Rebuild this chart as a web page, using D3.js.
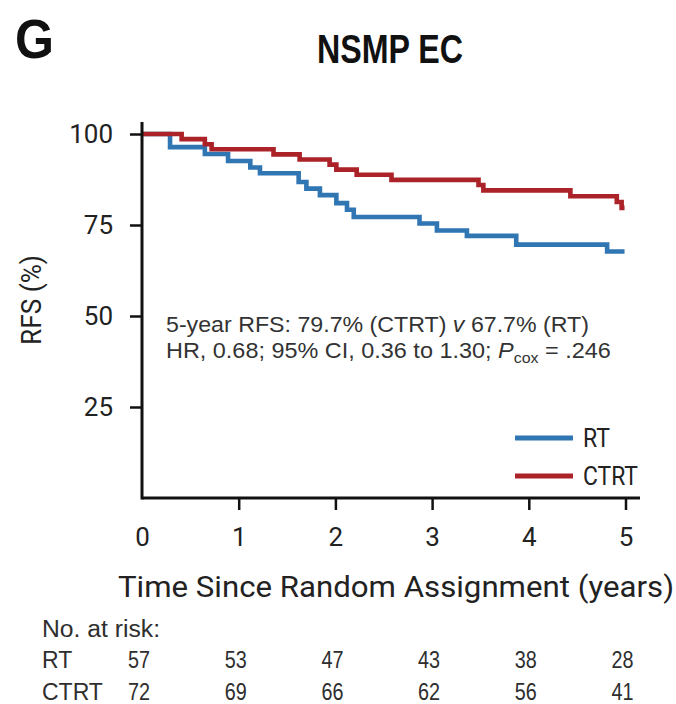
<!DOCTYPE html>
<html>
<head>
<meta charset="utf-8">
<script src="https://cdn.jsdelivr.net/npm/d3@7/dist/d3.min.js"></script>
<style>
  html, body { margin: 0; padding: 0; background: #fff; }
  svg { display: block; }
</style>
</head>
<body>
<svg id="chart" width="676" height="704"></svg>
<script>
// Kaplan-Meier step data: time (years) and RFS (%) after each step
const rtTimes   = [0, 0.29, 0.65, 0.89, 1.12, 1.22, 1.62, 1.70, 1.84, 2.01, 2.12, 2.19, 2.87, 3.05, 3.36, 3.87, 4.81];
const rtSurv    = [100, 96.4, 94.5, 92.6, 90.8, 89.2, 86.8, 85.0, 83.2, 81.0, 79.2, 77.2, 75.4, 73.5, 72.0, 69.6, 67.7];
const ctrtTimes = [0, 0.41, 0.65, 0.72, 1.36, 1.63, 1.94, 2.01, 2.22, 2.58, 3.48, 3.53, 4.43, 4.91, 4.96];
const ctrtSurv  = [100, 98.6, 97.2, 95.8, 94.4, 93.0, 91.6, 90.2, 88.8, 87.4, 86.0, 84.5, 82.9, 81.3, 79.7];
const followUpEnd = 4.99;

const xTicks = [0, 1, 2, 3, 4, 5];
const yTicks = [25, 50, 75, 100];

const groups = ["RT", "CTRT"];
const atRiskRT   = [57, 53, 47, 43, 38, 28];
const atRiskCTRT = [72, 69, 66, 62, 56, 41];

const colors = { RT: "#2f76b3", CTRT: "#ab2229" };

const svg = d3.select("#chart");
const x = d3.scaleLinear().domain([0, 5]).range([142, 625.5]);
const y = d3.scaleLinear().domain([0, 100]).range([498, 134]);

const axisFont = "Roboto, 'Liberation Sans', Arial, sans-serif";
const textFont = "'Liberation Sans', Arial, Helvetica, sans-serif";

// Panel letter and title
svg.append("text").attr("x", 15).attr("y", 58)
  .attr("font-family", textFont).attr("font-weight", "bold").attr("font-size", 55)
  .attr("textLength", 39).attr("lengthAdjust", "spacingAndGlyphs")
  .attr("fill", "#111").text("G");
svg.append("text").attr("x", 390).attr("y", 63).attr("text-anchor", "middle")
  .attr("font-family", textFont).attr("font-weight", "bold").attr("font-size", 40)
  .attr("textLength", 146).attr("lengthAdjust", "spacingAndGlyphs")
  .attr("fill", "#111").text("NSMP EC");

// Curves
const toPoints = (ts, vs) => {
  const pts = ts.map((t, i) => [t, vs[i]]);
  pts.push([followUpEnd, vs[vs.length - 1]]);
  return pts;
};
const line = d3.line().x(d => x(d[0])).y(d => y(d[1])).curve(d3.curveStepAfter);

svg.append("path").datum(toPoints(rtTimes, rtSurv))
  .attr("d", line).attr("fill", "none")
  .attr("stroke", colors.RT).attr("stroke-width", 4.6);
svg.append("path").datum(toPoints(ctrtTimes, ctrtSurv))
  .attr("d", line).attr("fill", "none")
  .attr("stroke", colors.CTRT).attr("stroke-width", 4.6);

// Axes
const gx = svg.append("g").attr("transform", `translate(0,${y(0)})`)
  .call(d3.axisBottom(x).tickValues(xTicks).tickSize(12).tickPadding(18).tickFormat(d3.format("d")));
const gy = svg.append("g").attr("transform", `translate(${x(0)},0)`)
  .call(d3.axisLeft(y).tickValues(yTicks).tickSize(12).tickPadding(17).tickFormat(d3.format("d")));
[gx, gy].forEach(g => {
  g.select(".domain").remove();
  g.selectAll(".tick line").attr("stroke", "#111").attr("stroke-width", 2.5);
  g.selectAll(".tick text").attr("font-family", axisFont).attr("font-size", 26).attr("fill", "#222");
});
// x tick at 0 has no mark, only the label
gx.selectAll(".tick").filter(d => d === 0).select("line").remove();

svg.append("line")
  .attr("x1", x(0)).attr("x2", x(5.15)).attr("y1", y(0)).attr("y2", y(0))
  .attr("stroke", "#111").attr("stroke-width", 3);
svg.append("line")
  .attr("x1", x(0)).attr("x2", x(0)).attr("y1", y(0) + 1.5).attr("y2", y(103.3))
  .attr("stroke", "#111").attr("stroke-width", 3);

// Axis titles
svg.append("text").attr("x", 396).attr("y", 597).attr("text-anchor", "middle")
  .attr("font-family", axisFont).attr("font-size", 30)
  .attr("textLength", 556).attr("lengthAdjust", "spacingAndGlyphs")
  .attr("fill", "#222").text("Time Since Random Assignment (years)");
svg.append("text").attr("transform", "translate(41,300) rotate(-90)").attr("text-anchor", "middle")
  .attr("font-family", axisFont).attr("font-size", 28)
  .attr("textLength", 90).attr("lengthAdjust", "spacingAndGlyphs")
  .attr("fill", "#222").text("RFS (%)");

// Statistics annotation
const ann = svg.append("g").attr("font-family", textFont).attr("font-size", 22).attr("fill", "#333");
const l1 = ann.append("text").attr("x", 166).attr("y", 331.5)
  .attr("textLength", 423).attr("lengthAdjust", "spacingAndGlyphs");
l1.append("tspan").text("5-year RFS: 79.7% (CTRT) ");
l1.append("tspan").attr("font-style", "italic").text("v");
l1.append("tspan").text(" 67.7% (RT)");
const l2 = ann.append("text").attr("x", 166).attr("y", 358);
l2.append("tspan").text("HR, 0.68; 95% CI, 0.36 to 1.30; ");
l2.append("tspan").attr("font-style", "italic").text("P");
l2.append("tspan").attr("font-size", 15).attr("dy", 5).text("cox");
l2.append("tspan").attr("dy", -5).text(" = .246");
// stretch line 2 to its full width, keeping the subscript intact
const l2w = l2.node().getComputedTextLength();
l2.attr("transform", `translate(166,0) scale(${445 / l2w},1) translate(-166,0)`);

// Legend
const legendY = { RT: 438, CTRT: 476 };
groups.forEach(gname => {
  svg.append("line").attr("x1", 515).attr("x2", 573)
    .attr("y1", legendY[gname]).attr("y2", legendY[gname])
    .attr("stroke", colors[gname]).attr("stroke-width", 4.8);
  svg.append("text").attr("x", 583).attr("y", legendY[gname] + 9)
    .attr("font-family", axisFont).attr("font-size", 25)
    .attr("textLength", gname === "RT" ? 27 : 55).attr("lengthAdjust", "spacingAndGlyphs")
    .attr("fill", "#222").text(gname);
});

// Number at risk table
const table = svg.append("g").attr("font-family", textFont).attr("font-size", 23).attr("fill", "#2e2e2e");
table.append("text").attr("x", 42).attr("y", 637)
  .attr("textLength", 118).attr("lengthAdjust", "spacingAndGlyphs").text("No. at risk:");
const rows = [
  { label: "RT", values: atRiskRT, y: 668 },
  { label: "CTRT", values: atRiskCTRT, y: 700 }
];
rows.forEach(r => {
  table.append("text").attr("x", 42).attr("y", r.y).text(r.label);
  table.selectAll(null).data(r.values).enter().append("text")
    .attr("x", (d, i) => x(xTicks[i]) - 3).attr("y", r.y)
    .attr("text-anchor", "middle").attr("font-size", 24)
    .attr("textLength", 22).attr("lengthAdjust", "spacingAndGlyphs").text(d => d);
});
</script>
</body>
</html>
